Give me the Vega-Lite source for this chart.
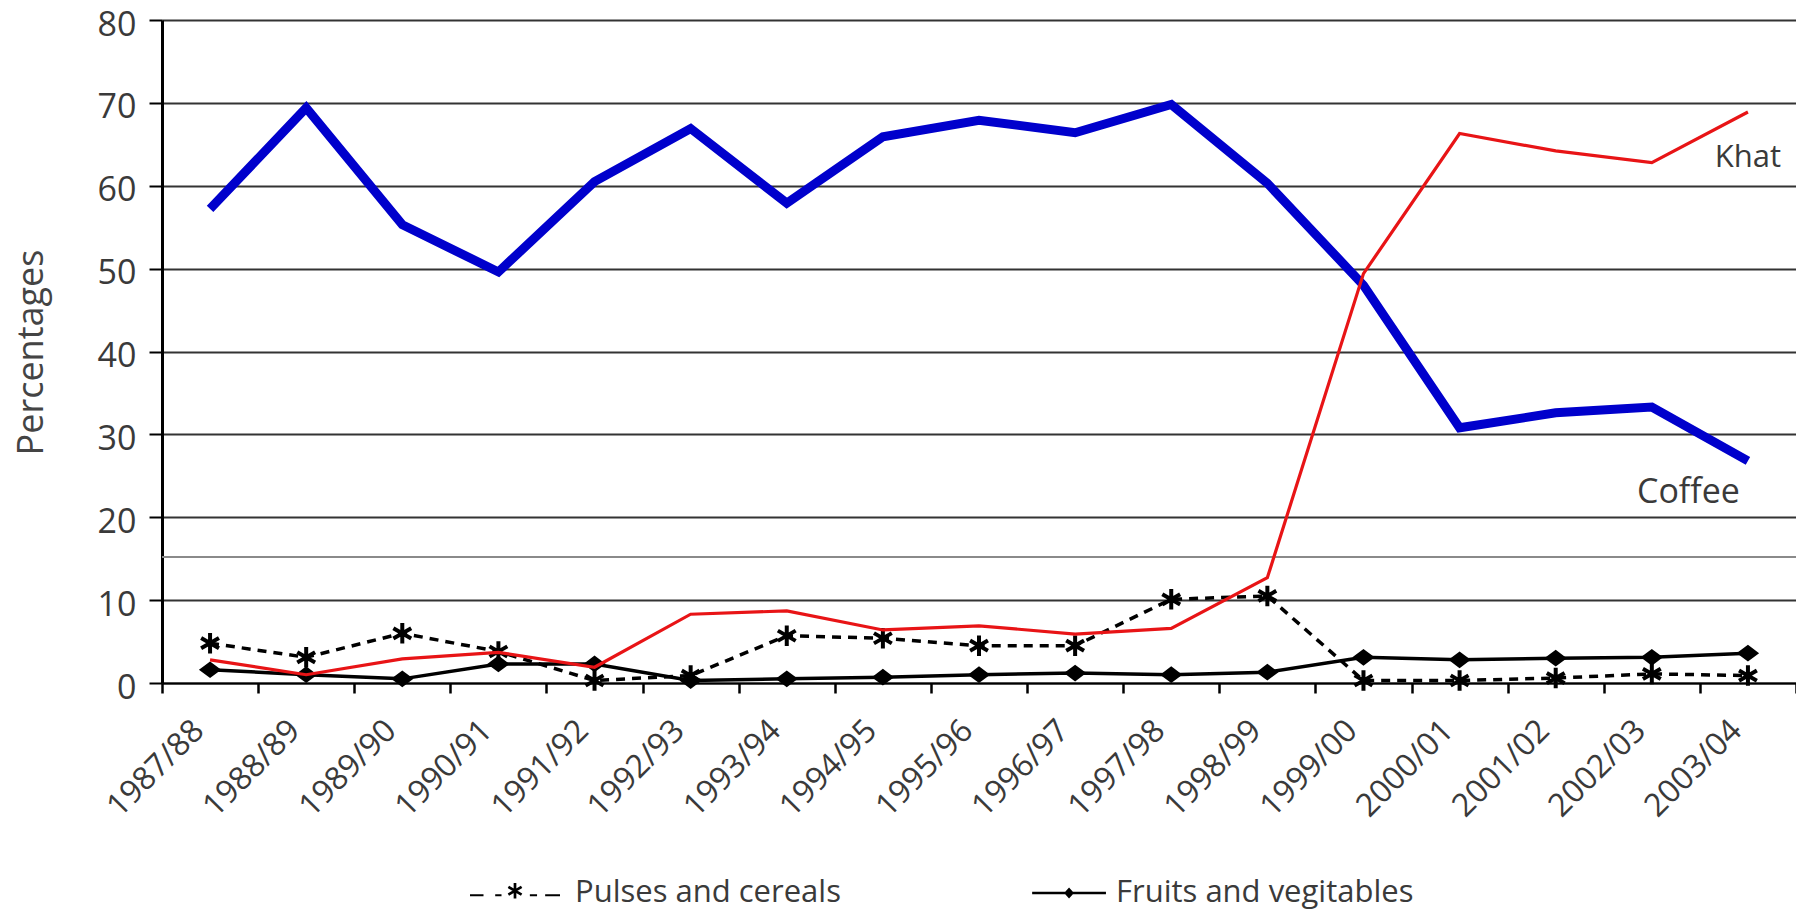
{
  "$schema": "https://vega.github.io/schema/vega-lite/v6.json",
  "width": 1634,
  "height": 663,
  "autosize": {"type": "none"},
  "padding": {"left": 162, "top": 20, "right": 0, "bottom": 231},
  "background": "white",
  "config": {"view": {"stroke": null}, "font": "Open Sans"},
  "datasets": {
    "main": [
      {"year": "1987/88", "series": "Coffee", "value": 57.2},
      {"year": "1988/89", "series": "Coffee", "value": 69.4},
      {"year": "1989/90", "series": "Coffee", "value": 55.3},
      {"year": "1990/91", "series": "Coffee", "value": 49.6},
      {"year": "1991/92", "series": "Coffee", "value": 60.5},
      {"year": "1992/93", "series": "Coffee", "value": 66.9},
      {"year": "1993/94", "series": "Coffee", "value": 57.9},
      {"year": "1994/95", "series": "Coffee", "value": 65.9},
      {"year": "1995/96", "series": "Coffee", "value": 67.9},
      {"year": "1996/97", "series": "Coffee", "value": 66.4},
      {"year": "1997/98", "series": "Coffee", "value": 69.8},
      {"year": "1998/99", "series": "Coffee", "value": 60.3},
      {"year": "1999/00", "series": "Coffee", "value": 48.0},
      {"year": "2000/01", "series": "Coffee", "value": 30.8},
      {"year": "2001/02", "series": "Coffee", "value": 32.6},
      {"year": "2002/03", "series": "Coffee", "value": 33.3},
      {"year": "2003/04", "series": "Coffee", "value": 26.8},
      {"year": "1987/88", "series": "Khat", "value": 2.8},
      {"year": "1988/89", "series": "Khat", "value": 1.0},
      {"year": "1989/90", "series": "Khat", "value": 2.9},
      {"year": "1990/91", "series": "Khat", "value": 3.7},
      {"year": "1991/92", "series": "Khat", "value": 1.9},
      {"year": "1992/93", "series": "Khat", "value": 8.3},
      {"year": "1993/94", "series": "Khat", "value": 8.7},
      {"year": "1994/95", "series": "Khat", "value": 6.4},
      {"year": "1995/96", "series": "Khat", "value": 6.9},
      {"year": "1996/97", "series": "Khat", "value": 5.9},
      {"year": "1997/98", "series": "Khat", "value": 6.6},
      {"year": "1998/99", "series": "Khat", "value": 12.7},
      {"year": "1999/00", "series": "Khat", "value": 49.4},
      {"year": "2000/01", "series": "Khat", "value": 66.3},
      {"year": "2001/02", "series": "Khat", "value": 64.2},
      {"year": "2002/03", "series": "Khat", "value": 62.8},
      {"year": "2003/04", "series": "Khat", "value": 68.9},
      {"year": "1987/88", "series": "Pulses and cereals", "value": 4.8},
      {"year": "1988/89", "series": "Pulses and cereals", "value": 3.1},
      {"year": "1989/90", "series": "Pulses and cereals", "value": 6.0},
      {"year": "1990/91", "series": "Pulses and cereals", "value": 3.8},
      {"year": "1991/92", "series": "Pulses and cereals", "value": 0.3},
      {"year": "1992/93", "series": "Pulses and cereals", "value": 0.9},
      {"year": "1993/94", "series": "Pulses and cereals", "value": 5.7},
      {"year": "1994/95", "series": "Pulses and cereals", "value": 5.4},
      {"year": "1995/96", "series": "Pulses and cereals", "value": 4.5},
      {"year": "1996/97", "series": "Pulses and cereals", "value": 4.5},
      {"year": "1997/98", "series": "Pulses and cereals", "value": 10.1},
      {"year": "1998/99", "series": "Pulses and cereals", "value": 10.5},
      {"year": "1999/00", "series": "Pulses and cereals", "value": 0.3},
      {"year": "2000/01", "series": "Pulses and cereals", "value": 0.3},
      {"year": "2001/02", "series": "Pulses and cereals", "value": 0.6},
      {"year": "2002/03", "series": "Pulses and cereals", "value": 1.1},
      {"year": "2003/04", "series": "Pulses and cereals", "value": 0.9},
      {"year": "1987/88", "series": "Fruits and vegitables", "value": 1.6},
      {"year": "1988/89", "series": "Fruits and vegitables", "value": 1.0},
      {"year": "1989/90", "series": "Fruits and vegitables", "value": 0.5},
      {"year": "1990/91", "series": "Fruits and vegitables", "value": 2.3},
      {"year": "1991/92", "series": "Fruits and vegitables", "value": 2.3},
      {"year": "1992/93", "series": "Fruits and vegitables", "value": 0.3},
      {"year": "1993/94", "series": "Fruits and vegitables", "value": 0.5},
      {"year": "1994/95", "series": "Fruits and vegitables", "value": 0.7},
      {"year": "1995/96", "series": "Fruits and vegitables", "value": 1.0},
      {"year": "1996/97", "series": "Fruits and vegitables", "value": 1.2},
      {"year": "1997/98", "series": "Fruits and vegitables", "value": 1.0},
      {"year": "1998/99", "series": "Fruits and vegitables", "value": 1.3},
      {"year": "1999/00", "series": "Fruits and vegitables", "value": 3.1},
      {"year": "2000/01", "series": "Fruits and vegitables", "value": 2.8},
      {"year": "2001/02", "series": "Fruits and vegitables", "value": 3.0},
      {"year": "2002/03", "series": "Fruits and vegitables", "value": 3.1},
      {"year": "2003/04", "series": "Fruits and vegitables", "value": 3.6}
    ],
    "labels": [
      {"year": "2003/04", "label": "Khat", "value": 62.3},
      {"year": "2003/04", "label": "Coffee", "value": 21.7}
    ]
  },
  "data": {"name": "main"},
  "layer": [
    {
      "mark": {"type": "rule", "color": "#8a8a8a", "strokeWidth": 1.2},
      "encoding": {
        "y": {"datum": 15.2, "type": "quantitative", "scale": {"domain": [0, 80], "nice": false}}
      }
    },
    {
      "transform": [{"filter": "datum.series === 'Fruits and vegitables'"}],
      "mark": {"type": "line", "color": "black", "strokeWidth": 3.5},
      "encoding": {
        "x": {
          "field": "year", "type": "ordinal", "sort": null, "bandPosition": 0.5,
          "scale": {"type": "band", "paddingInner": 0, "paddingOuter": 0},
          "axis": {
            "title": null, "labelAngle": -45, "labelAlign": "right", "labelBaseline": "middle",
            "labelFontSize": 32, "labelColor": "#3a3a3a", "labelFont": "Open Sans",
            "tickBand": "extent", "tickSize": 10, "tickWidth": 2.5, "tickColor": "black",
            "domainColor": "black", "domainWidth": 2, "labelPadding": 32, "labelOffset": -12,
            "grid": false
          }
        },
        "y": {
          "field": "value", "type": "quantitative",
          "scale": {"domain": [0, 80], "nice": false},
          "axis": {
            "title": "Percentages", "values": [0, 10, 20, 30, 40, 50, 60, 70, 80],
            "grid": true, "gridColor": "#333333", "gridWidth": 2,
            "domainColor": "black", "domainWidth": 3,
            "tickSize": 13, "tickColor": "black", "tickWidth": 2,
            "labelFontSize": 34, "labelPadding": 13, "labelColor": "#3a3a3a", "labelOffset": 5,
            "titleFontSize": 36, "titleFontWeight": "normal", "titleColor": "#444444",
            "titleX": -112, "titleY": 332, "titleAngle": 270, "titleAlign": "center", "titleBaseline": "bottom"
          }
        }
      }
    },
    {
      "transform": [{"filter": "datum.series === 'Pulses and cereals'"}],
      "mark": {"type": "line", "color": "black", "strokeWidth": 3.5, "strokeDash": [9, 7]},
      "encoding": {
        "x": {"field": "year", "type": "ordinal", "sort": null, "bandPosition": 0.5},
        "y": {"field": "value", "type": "quantitative"}
      }
    },
    {
      "transform": [{"filter": "datum.series === 'Pulses and cereals'"}],
      "mark": {"type": "point", "shape": "M0,-1L0,1M-0.87,-0.5L0.87,0.5M-0.87,0.5L0.87,-0.5", "filled": false, "stroke": "black", "strokeWidth": 4, "size": 420, "opacity": 1},
      "encoding": {
        "x": {"field": "year", "type": "ordinal", "sort": null, "bandPosition": 0.5},
        "y": {"field": "value", "type": "quantitative"}
      }
    },
    {
      "transform": [{"filter": "datum.series === 'Fruits and vegitables'"}],
      "mark": {"type": "point", "shape": "M-1,0L0,-0.75L1,0L0,0.75Z", "filled": true, "fill": "black", "stroke": "black", "strokeWidth": 2, "size": 360, "opacity": 1},
      "encoding": {
        "x": {"field": "year", "type": "ordinal", "sort": null, "bandPosition": 0.5},
        "y": {"field": "value", "type": "quantitative"}
      }
    },
    {
      "transform": [{"filter": "datum.series === 'Pulses and cereals' || datum.series === 'Fruits and vegitables'"}],
      "mark": {"type": "point", "filled": true, "fill": "black", "size": 100, "opacity": 0},
      "encoding": {
        "x": {"field": "year", "type": "ordinal", "sort": null, "bandPosition": 0.5},
        "y": {"field": "value", "type": "quantitative"},
        "shape": {
          "field": "series", "type": "nominal",
          "scale": {
            "domain": ["Pulses and cereals", "Fruits and vegitables"],
            "range": [
              "M-1,0.028L-0.7,0.028L-0.7,0.072L-1,0.072ZM-0.44,0.028L-0.3,0.028L-0.3,0.072L-0.44,0.072ZM-0.03,-0.22L0.03,-0.22L0.03,0.12L-0.03,0.12ZM-0.132,-0.161L0.162,0.009L0.132,0.061L-0.162,-0.109ZM-0.162,0.009L0.132,-0.161L0.162,-0.109L-0.132,0.061ZM0.33,0.028L0.49,0.028L0.49,0.072L0.33,0.072ZM0.67,0.028L1,0.028L1,0.072L0.67,0.072Z",
              "M-0.53,-0.028L1.11,-0.028L1.11,0.028L-0.53,0.028ZM0.18,0L0.29,-0.12L0.4,0L0.29,0.12Z"
            ]
          },
          "legend": {
            "orient": "none", "legendX": 308, "legendY": 828, "direction": "horizontal", "title": null,
            "symbolSize": 8100, "labelOffset": 15, "columnPadding": 170, "labelLimit": 800,
            "labelFontSize": 31, "labelFont": "Open Sans", "labelColor": "#3a3a3a",
            "symbolFillColor": "black", "symbolStrokeColor": "transparent", "symbolStrokeWidth": 0, "symbolOpacity": 1,
            "padding": 0
          }
        }
      }
    },
    {
      "transform": [{"filter": "datum.series === 'Coffee'"}],
      "mark": {"type": "line", "color": "#0000cc", "strokeWidth": 9, "strokeJoin": "miter"},
      "encoding": {
        "x": {"field": "year", "type": "ordinal", "sort": null, "bandPosition": 0.5},
        "y": {"field": "value", "type": "quantitative"}
      }
    },
    {
      "transform": [{"filter": "datum.series === 'Khat'"}],
      "mark": {"type": "line", "color": "#e81416", "strokeWidth": 3.2},
      "encoding": {
        "x": {"field": "year", "type": "ordinal", "sort": null, "bandPosition": 0.5},
        "y": {"field": "value", "type": "quantitative"}
      }
    },
    {
      "data": {"name": "labels"},
      "transform": [{"filter": "datum.label === 'Khat'"}],
      "mark": {"type": "text", "align": "center", "baseline": "alphabetic", "fontSize": 31, "font": "Open Sans", "color": "#3a3a3a"},
      "encoding": {
        "x": {"field": "year", "type": "ordinal", "sort": null, "bandPosition": 0.5},
        "y": {"field": "value", "type": "quantitative"},
        "text": {"field": "label"}
      }
    },
    {
      "data": {"name": "labels"},
      "transform": [{"filter": "datum.label === 'Coffee'"}],
      "mark": {"type": "text", "align": "right", "baseline": "alphabetic", "dx": -8, "fontSize": 34, "font": "Open Sans", "color": "#3a3a3a"},
      "encoding": {
        "x": {"field": "year", "type": "ordinal", "sort": null, "bandPosition": 0.5},
        "y": {"field": "value", "type": "quantitative"},
        "text": {"field": "label"}
      }
    }
  ]
}
